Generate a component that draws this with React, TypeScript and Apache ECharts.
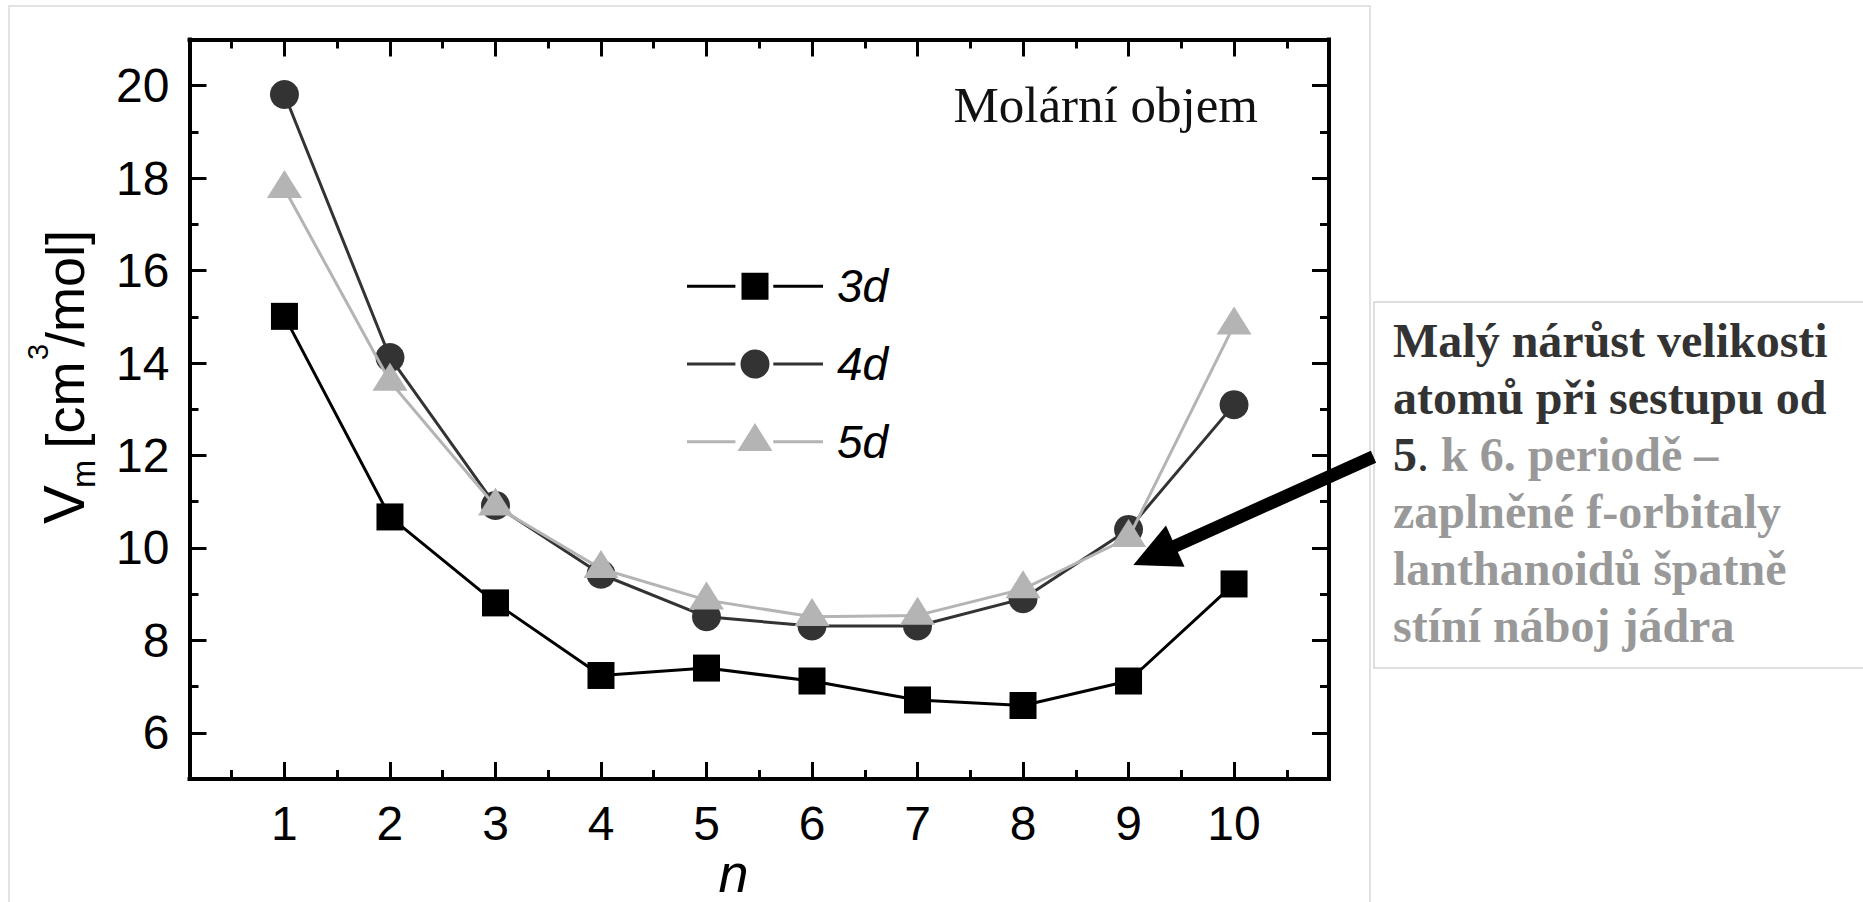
import React, { useEffect, useRef } from 'react';
import * as echarts from 'echarts';

// ---- data ----
const N_VALUES = [1, 2, 3, 4, 5, 6, 7, 8, 9, 10];
const VM_3D = [15.01, 10.67, 8.81, 7.24, 7.4, 7.12, 6.71, 6.59, 7.12, 9.22];
const VM_4D = [19.81, 14.12, 10.92, 9.43, 8.51, 8.31, 8.31, 8.9, 10.4, 13.1];
const VM_5D = [17.77, 13.6, 10.9, 9.55, 8.87, 8.51, 8.54, 9.11, 10.22, 14.82];
const SERIES_NAMES = ['3d', '4d', '5d'];

const X_MAJOR_TICKS = [1, 2, 3, 4, 5, 6, 7, 8, 9, 10];
const X_MINOR_TICKS = [0.5, 1.5, 2.5, 3.5, 4.5, 5.5, 6.5, 7.5, 8.5, 9.5, 10.5];
const Y_MAJOR_TICKS = [6, 8, 10, 12, 14, 16, 18, 20];
const Y_MINOR_TICKS = [7, 9, 11, 13, 15, 17, 19];
const X_RANGE = [0.1, 10.9];
const Y_RANGE = [5, 21];

const TITLE = 'Molární objem';
const X_TITLE = 'n';
const NOTE_DARK = ['Malý nárůst velikosti', 'atomů při sestupu od'];
const NOTE_MIXED = ['5', '.', ' k 6. periodě –'];
const NOTE_GRAY = ['zaplněné f-orbitaly', 'lanthanoidů špatně', 'stíní náboj jádra'];

const SANS = "'Liberation Sans', Arial, sans-serif";
const SERIF = "'Liberation Serif', 'Times New Roman', serif";

// legend icons (136 x 40 box): line - gap - marker - gap - line
const ICON_FRAME = 'M0,0L0.001,0Z M136,40L135.999,40Z ';
const ICON_LINES = 'M0,18.5L48.4,18.5L48.4,21.5L0,21.5Z M86.3,18.5L136,18.5L136,21.5L86.3,21.5Z ';
const LEGEND_ICONS = [
  'path://' + ICON_FRAME + ICON_LINES + 'M54.5,6.5L81.5,6.5L81.5,33.5L54.5,33.5Z',
  'path://' + ICON_FRAME + ICON_LINES + 'M53.5,20A14.5,14.5 0 1 1 82.5,20A14.5,14.5 0 1 1 53.5,20Z',
  'path://' + ICON_FRAME + ICON_LINES + 'M68,1.4L85.5,29.3L50.5,29.3Z',
];

function makeXAxis(position: 'top' | 'bottom', major: boolean, labels: boolean) {
  return {
    type: 'value',
    position,
    min: X_RANGE[0],
    max: X_RANGE[1],
    axisLine: {
      show: major,
      onZero: false,
      lineStyle: { color: '#000', width: 4, cap: 'square' },
    },
    axisTick: {
      show: true,
      inside: true,
      length: major ? 17 : 9,
      customValues: major ? X_MAJOR_TICKS : X_MINOR_TICKS,
      lineStyle: { color: '#000', width: 3 },
    },
    axisLabel: {
      show: labels,
      customValues: X_MAJOR_TICKS,
      margin: 20,
      color: '#000',
      fontSize: 48,
      fontFamily: SANS,
    },
    splitLine: { show: false },
  };
}

function makeYAxis(position: 'left' | 'right', major: boolean, labels: boolean) {
  return {
    type: 'value',
    position,
    min: Y_RANGE[0],
    max: Y_RANGE[1],
    axisLine: {
      show: major,
      onZero: false,
      lineStyle: { color: '#000', width: 4, cap: 'square' },
    },
    axisTick: {
      show: true,
      inside: true,
      length: major ? 17 : 9,
      customValues: major ? Y_MAJOR_TICKS : Y_MINOR_TICKS,
      lineStyle: { color: '#000', width: 3 },
    },
    axisLabel: {
      show: labels,
      customValues: Y_MAJOR_TICKS,
      margin: 20,
      color: '#000',
      fontSize: 48,
      fontFamily: SANS,
    },
    splitLine: { show: false },
  };
}

function arrowGraphics() {
  const start = [1373.5, 456.7];
  const tip = [1133.3, 565];
  const headLen = 46;
  const headHalf = 22.6;
  const dx = tip[0] - start[0];
  const dy = tip[1] - start[1];
  const len = Math.sqrt(dx * dx + dy * dy);
  const ux = dx / len;
  const uy = dy / len;
  const px = -uy;
  const py = ux;
  const bx = tip[0] - ux * headLen;
  const by = tip[1] - uy * headLen;
  return [
    {
      type: 'line',
      shape: { x1: start[0], y1: start[1], x2: bx + ux * 2, y2: by + uy * 2 },
      style: { stroke: '#000', lineWidth: 13 },
      z: 10,
    },
    {
      type: 'polygon',
      shape: {
        points: [
          [tip[0], tip[1]],
          [bx + px * headHalf, by + py * headHalf],
          [bx - px * headHalf, by - py * headHalf],
        ],
      },
      style: { fill: '#000' },
      z: 10,
    },
  ];
}

function yTitleGraphics() {
  const rot = Math.PI / 2;
  const piece = (text: string, x: number, y: number, size: number) => ({
    type: 'text',
    x,
    y,
    rotation: rot,
    style: {
      text,
      fontSize: size,
      fontFamily: SANS,
      fill: '#000',
      align: 'left',
      verticalAlign: 'middle',
    },
    z: 10,
  });
  return [
    piece('V', 63.4, 524, 58),
    piece('m', 83.2, 488, 34),
    piece('[cm', 64.5, 448.5, 54),
    piece('3', 38, 360, 29),
    piece('/mol]', 64.5, 347, 54),
  ];
}

function noteGraphic() {
  const base = { fontSize: 48, fontFamily: SERIF, fontWeight: 'bold', lineHeight: 57 };
  const text = [
    ...NOTE_DARK.map((l) => `{d|${l}}`),
    `{d|${NOTE_MIXED[0]}}{dn|${NOTE_MIXED[1]}}{g|${NOTE_MIXED[2]}}`,
    ...NOTE_GRAY.map((l) => `{g|${l}}`),
  ].join('\n');
  return {
    type: 'text',
    x: 1393,
    y: 312.3,
    style: {
      text,
      align: 'left',
      verticalAlign: 'top',
      fontSize: 48,
      fontFamily: SERIF,
      fontWeight: 'bold',
      lineHeight: 57,
      fill: '#333',
      rich: {
        d: { ...base, fill: '#333333' },
        dn: { ...base, fontWeight: 'normal', fill: '#333333' },
        g: { ...base, fill: '#999999' },
      },
    },
    z: 10,
  };
}

export default function App() {
  const ref = useRef<HTMLDivElement>(null);

  useEffect(() => {
    if (!ref.current) return;
    const chart = echarts.init(ref.current, undefined, { renderer: 'svg' });

    const seriesData = [VM_3D, VM_4D, VM_5D];
    const colors = ['#000000', '#333333', '#b4b4b4'];
    const symbols = ['rect', 'circle', 'triangle'];
    const sizes: any[] = [27, 29, [35, 28]];
    const offsets: any[] = [[0, 0], [0, 0], [0, -4.7]];

    const option: any = {
      animation: false,
      backgroundColor: '#ffffff',
      grid: {
        left: 189.5,
        top: 39.5,
        right: 534,
        bottom: 123,
        containLabel: false,
        outerBoundsMode: 'none',
      },
      xAxis: [
        makeXAxis('bottom', true, true),
        makeXAxis('bottom', false, false),
        makeXAxis('top', true, false),
        makeXAxis('top', false, false),
      ],
      yAxis: [
        makeYAxis('left', true, true),
        makeYAxis('left', false, false),
        makeYAxis('right', true, false),
        makeYAxis('right', false, false),
      ],
      legend: {
        orient: 'vertical',
        left: 687,
        top: 263.3,
        padding: 0,
        itemWidth: 136,
        itemHeight: 40,
        itemGap: 31.7,
        selectedMode: false,
        itemStyle: { borderWidth: 0 },
        data: SERIES_NAMES.map((name, k) => ({ name, icon: LEGEND_ICONS[k] })),
        textStyle: {
          fontSize: 46,
          fontStyle: 'italic',
          fontFamily: SANS,
          color: '#000',
          lineHeight: 40,
          padding: [0, 0, 0, 9],
        },
      },
      series: SERIES_NAMES.map((name, k) => ({
        name,
        type: 'line',
        xAxisIndex: 0,
        yAxisIndex: 0,
        data: N_VALUES.map((n, i) => [n, seriesData[k][i]]),
        symbol: symbols[k],
        symbolSize: sizes[k],
        symbolOffset: offsets[k],
        showAllSymbol: true,
        lineStyle: { color: colors[k], width: 3 },
        itemStyle: { color: colors[k] },
        emphasis: { disabled: true },
        z: 2 + k,
      })),
      graphic: [
        {
          type: 'rect',
          shape: { x: 9, y: 6, width: 1361, height: 1000 },
          style: { fill: 'none', stroke: '#d9d9d9', lineWidth: 1.5 },
          z: 0,
        },
        {
          type: 'rect',
          shape: { x: 1374, y: 302, width: 600, height: 366 },
          style: { fill: 'none', stroke: '#d4d4d4', lineWidth: 1.5 },
          z: 0,
        },
        {
          type: 'text',
          x: 1258,
          y: 104.5,
          style: {
            text: TITLE,
            fontSize: 51,
            fontFamily: SERIF,
            fill: '#111',
            align: 'right',
            verticalAlign: 'middle',
          },
          z: 10,
        },
        {
          type: 'text',
          x: 733.5,
          y: 873,
          style: {
            text: X_TITLE,
            fontSize: 54,
            fontStyle: 'italic',
            fontFamily: SANS,
            fill: '#000',
            align: 'center',
            verticalAlign: 'middle',
          },
          z: 10,
        },
        ...yTitleGraphics(),
        ...arrowGraphics(),
        noteGraphic(),
      ],
    };

    chart.setOption(option);
    return () => {
      chart.dispose();
    };
  }, []);

  return (
    <div
      ref={ref}
      style={{ position: 'fixed', left: 0, top: 0, width: 1863, height: 902, background: '#fff' }}
    />
  );
}
